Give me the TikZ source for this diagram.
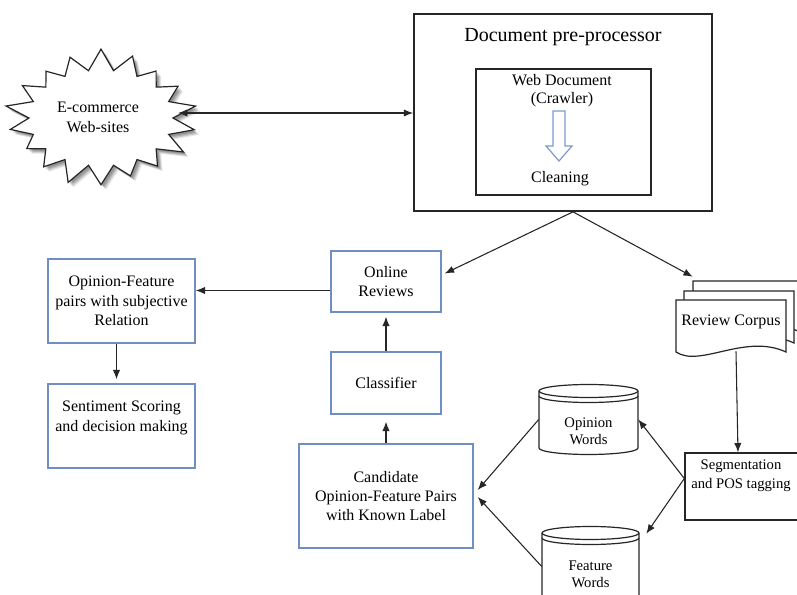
\documentclass[tikz,border=0pt]{standalone}
\usepackage{fontspec}
\setmainfont{Liberation Serif}
\usetikzlibrary{arrows.meta,calc}
\definecolor{boxblue}{RGB}{111,143,194}
\definecolor{hollowblue}{RGB}{125,155,205}
\begin{document}
\begin{tikzpicture}[x=0.75pt,y=-0.75pt,
  txt/.style={font=\fontsize{12}{14.5}\selectfont, align=center, inner sep=0pt},
  bluebox/.style={draw=boxblue, line width=1.1pt, fill=white, align=center, font=\fontsize{12}{14.5}\selectfont, inner sep=0pt},
  blackbox/.style={draw=black!85, line width=1pt, fill=white, align=center, font=\fontsize{12}{14.5}\selectfont, inner sep=0pt},
  arr/.style={draw=black!85, line width=0.8pt, -{Latex[length=7pt,width=5.5pt]}},
  dblarr/.style={draw=black!85, line width=0.8pt, {Latex[length=7pt,width=5.5pt]}-{Latex[length=7pt,width=5.5pt]}},
  shape line/.style={draw=black!85, line width=0.9pt, fill=white},
]
\useasboundingbox (0,0) rectangle (797,595);
\fill[white] (0,0) rectangle (797,595);

% ---------- starburst (E-commerce web-sites) ----------
\def\starpath{plot[samples at={0,...,35}, variable=\i]
  ({101+(iseven(\i) ? 72 : 91*(1+0.06*sin(\i*137)))*cos(\i*10)},
   {118+(iseven(\i) ? 48 : 65*(1+0.06*sin(\i*137)))*sin(\i*10)}) -- cycle}
\foreach \s/\o in {5/0.10,4/0.12,3/0.14,2/0.14}{
  \fill[black, opacity=\o, shift={(\s,\s)}] \starpath;
}
\draw[shape line] \starpath;
\node[txt, font=\fontsize{12}{15}\selectfont] (web) at (98,117) {E-commerce\\Web-sites};
\coordinate (webtip) at ($(web.center)+(80,-4)$);

% ---------- document pre-processor ----------
\node[draw=black!85, line width=1.3pt, minimum width=223.5pt, minimum height=147.75pt, inner sep=0pt] (dp) at (563,112.5) {};
\node[txt, font=\fontsize{15}{18}\selectfont] (dptitle) at (563,37) {Document pre-processor};
\node[draw=black!85, line width=1.2pt, minimum width=131.25pt, minimum height=94.5pt, inner sep=0pt] (wd) at (563.5,132) {};
\node[txt, font=\fontsize{12}{13.5}\selectfont] (wdtext) at (562,91) {Web Document\\(Crawler)};
\node[txt] (clean) at (560,179) {Cleaning};
\draw[draw=hollowblue, line width=0.9pt, fill=white, line join=miter]
  (553,111) -- (565,111) -- (565,146) -- (572,146) -- (559,161) -- (546,146) -- (553,146) -- cycle;

\draw[dblarr] (webtip) -- (dp.west |- webtip);

% ---------- blue boxes ----------
\node[bluebox, minimum width=82.5pt, minimum height=45.75pt] (or) at (386,281.5) {Online\\Reviews};
\node[bluebox, minimum width=82.5pt, minimum height=46.5pt] (cl) at (386,383) {Classifier};
\node[bluebox, minimum width=130.5pt, minimum height=78pt] (cand) at (386,496) {Candidate\\Opinion-Feature Pairs\\with Known Label};
\node[bluebox, minimum width=110.25pt, minimum height=63pt] (of) at (121.5,301) {Opinion-Feature\\pairs with subjective\\Relation};
\node[bluebox, minimum width=110.25pt, minimum height=63pt] (se) at (121.5,426) {Sentiment Scoring\\and decision making\\\mbox{}};

% ---------- review corpus (multi-document) ----------
\def\docpath{(676,300) -- (786,300) -- (786,352) .. controls (745,333) and (700,368) .. (676,352) -- cycle}
\draw[shape line, shift={(17,-19)}] \docpath;
\draw[shape line, shift={(8,-9)}] \docpath;
\draw[shape line] \docpath;
\node[txt, minimum width=82.5pt, minimum height=37.5pt] (rc) at (731,322) {Review Corpus};
\coordinate (rcin) at ($(rc.north west)+(17,-20)$);

% ---------- segmentation ----------
\node[blackbox, minimum width=90pt, minimum height=50.25pt] (seg) at (745,486.5) {};
\node[txt, font=\fontsize{11}{14.5}\selectfont] (segtxt) at (741,476) {Segmentation\\and POS tagging};

% ---------- cylinders ----------
\draw[shape line] (539,391) -- (539,448) arc[start angle=180,end angle=0,x radius=49.5,y radius=6.5]
  -- (638,391) arc[start angle=0,end angle=-180,x radius=49.5,y radius=6.5] -- cycle;
\draw[draw=black!85, line width=0.9pt] (539,391) arc[start angle=180,end angle=0,x radius=49.5,y radius=6.5];
\draw[draw=black!85, line width=0.9pt] (539,396) arc[start angle=180,end angle=0,x radius=49.5,y radius=6.5];
\node[inner sep=0pt, minimum width=74.25pt, minimum height=42.75pt] (ow) at (588.5,419.5) {};
\node[txt, font=\fontsize{11}{13}\selectfont] (owtxt) at (588.5,431) {Opinion\\Words};

\draw[shape line] (542,533) -- (542,605) arc[start angle=180,end angle=0,x radius=48.5,y radius=6.5]
  -- (639,533) arc[start angle=0,end angle=-180,x radius=48.5,y radius=6.5] -- cycle;
\draw[draw=black!85, line width=0.9pt] (542,533) arc[start angle=180,end angle=0,x radius=48.5,y radius=6.5];
\draw[draw=black!85, line width=0.9pt] (542,538) arc[start angle=180,end angle=0,x radius=48.5,y radius=6.5];
\node[inner sep=0pt, minimum width=72.75pt, minimum height=50.25pt] (fw) at (590.5,566.5) {};
\node[txt, font=\fontsize{11}{13}\selectfont] (fwtxt) at (590.5,574.5) {Feature\\Words};

% ---------- connectors ----------
\coordinate (split) at ($(dp.south)+(10,0)$);
\draw[arr] (split) -- ($(or.east)+(3,-8)$);
\draw[arr] (split) -- (rcin);
\coordinate (orw) at ($(or.west)+(0,9)$);
\draw[arr] (orw) -- (orw -| of.east);
\draw[arr] ($(of.south)+(-5,0)$) -- ($(se.north)+(-5,-4)$);
\draw[arr] (cl.north) -- ($(or.south)+(0,4)$);
\draw[arr] (cand.north) -- ($(cl.south)+(0,7)$);
\draw[arr] ($(rc.south)+(5,4)$) -- ($(seg.north)+(-7,0)$);
\coordinate (segw) at ($(seg.west)+(0,-8)$);
\draw[arr] (segw) -- (ow.east);
\draw[arr] (segw) -- ($(fw.north east)+(7,1)$);
\draw[arr] (ow.west) -- ($(cand.east)+(4,-6)$);
\draw[arr] (fw.west) -- ($(cand.east)+(4,1)$);
\end{tikzpicture}
\end{document}
